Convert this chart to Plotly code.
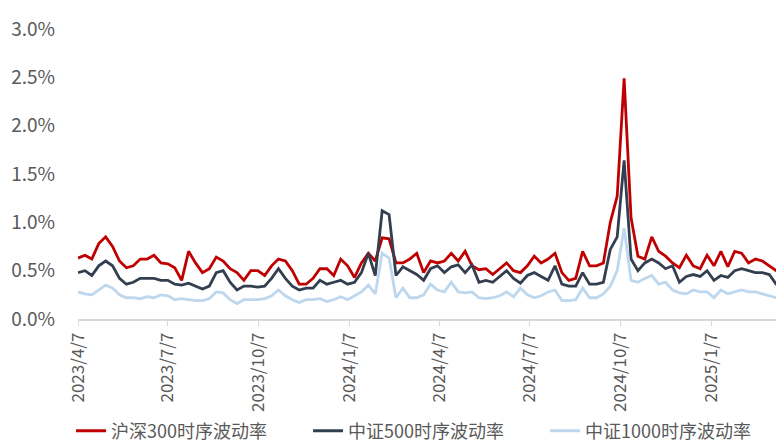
import pandas as pd
import plotly.graph_objects as go

# weekly observation dates (Fridays)
dates = pd.date_range("2023-04-07", periods=104, freq="7D")

hs300 = [0.63, 0.66, 0.62, 0.78, 0.85, 0.75, 0.60, 0.53, 0.55, 0.62,
         0.62, 0.66, 0.58, 0.57, 0.53, 0.40, 0.70, 0.58, 0.48, 0.52,
         0.64, 0.60, 0.52, 0.48, 0.40, 0.50, 0.50, 0.45, 0.55, 0.62,
         0.60, 0.50, 0.36, 0.36, 0.42, 0.52, 0.52, 0.45, 0.62, 0.55,
         0.43, 0.58, 0.68, 0.60, 0.84, 0.83, 0.58, 0.58, 0.62, 0.68,
         0.48, 0.60, 0.58, 0.60, 0.68, 0.60, 0.70, 0.55, 0.51, 0.52,
         0.46, 0.52, 0.58, 0.50, 0.48, 0.55, 0.65, 0.58, 0.62, 0.68,
         0.48, 0.40, 0.42, 0.70, 0.55, 0.55, 0.58, 1.00, 1.27, 2.49,
         1.05, 0.65, 0.62, 0.85, 0.70, 0.65, 0.58, 0.53, 0.66, 0.55,
         0.52, 0.66, 0.55, 0.70, 0.54, 0.70, 0.68, 0.58, 0.62, 0.60,
         0.55, 0.50, 0.45, 0.38]

zz500 = [0.48, 0.50, 0.45, 0.55, 0.60, 0.55, 0.42, 0.36, 0.38, 0.42,
         0.42, 0.42, 0.40, 0.40, 0.36, 0.35, 0.37, 0.34, 0.31, 0.34,
         0.48, 0.50, 0.38, 0.30, 0.34, 0.34, 0.33, 0.34, 0.42, 0.52,
         0.42, 0.34, 0.30, 0.32, 0.32, 0.40, 0.36, 0.38, 0.40, 0.36,
         0.38, 0.48, 0.68, 0.45, 1.12, 1.08, 0.45, 0.54, 0.50, 0.46,
         0.40, 0.52, 0.55, 0.48, 0.54, 0.56, 0.48, 0.56, 0.38, 0.40,
         0.38, 0.44, 0.50, 0.42, 0.37, 0.45, 0.48, 0.44, 0.40, 0.55,
         0.36, 0.34, 0.34, 0.48, 0.36, 0.36, 0.38, 0.72, 0.85, 1.64,
         0.62, 0.50, 0.58, 0.62, 0.58, 0.52, 0.55, 0.38, 0.44, 0.46,
         0.44, 0.50, 0.40, 0.45, 0.43, 0.50, 0.52, 0.50, 0.48, 0.48,
         0.46, 0.36, 0.34, 0.33]

zz1000 = [0.28, 0.26, 0.25, 0.30, 0.35, 0.32, 0.25, 0.22, 0.22, 0.21,
          0.23, 0.22, 0.25, 0.24, 0.20, 0.21, 0.20, 0.19, 0.19, 0.21,
          0.28, 0.27, 0.20, 0.16, 0.20, 0.20, 0.20, 0.21, 0.24, 0.30,
          0.24, 0.20, 0.17, 0.20, 0.20, 0.21, 0.18, 0.20, 0.23, 0.20,
          0.24, 0.28, 0.35, 0.26, 0.68, 0.63, 0.22, 0.32, 0.22, 0.22,
          0.25, 0.36, 0.30, 0.28, 0.38, 0.28, 0.27, 0.28, 0.22, 0.21,
          0.22, 0.24, 0.28, 0.23, 0.32, 0.25, 0.22, 0.24, 0.28, 0.30,
          0.19, 0.19, 0.20, 0.32, 0.22, 0.22, 0.26, 0.34, 0.50, 0.94,
          0.40, 0.38, 0.42, 0.45, 0.36, 0.38, 0.30, 0.27, 0.26, 0.30,
          0.28, 0.28, 0.22, 0.30, 0.26, 0.28, 0.30, 0.28, 0.28, 0.26,
          0.24, 0.22, 0.21, 0.21]

tick_dates = ["2023-04-07", "2023-07-07", "2023-10-07", "2024-01-07",
              "2024-04-07", "2024-07-07", "2024-10-07", "2025-01-07"]
tick_labels = ["2023/4/7", "2023/7/7", "2023/10/7", "2024/1/7",
               "2024/4/7", "2024/7/7", "2024/10/7", "2025/1/7"]
y_ticks = [0, 0.5, 1.0, 1.5, 2.0, 2.5, 3.0]
y_labels = ["0.0%", "0.5%", "1.0%", "1.5%", "2.0%", "2.5%", "3.0%"]

series = [("沪深300时序波动率", hs300, "#C00000"),
          ("中证500时序波动率", zz500, "#333F50"),
          ("中证1000时序波动率", zz1000, "#BDD7EE")]

FONT = "Noto Sans CJK SC"

fig = go.Figure()
for name, vals, color in series:
    fig.add_trace(go.Scatter(x=dates, y=vals, name=name, mode="lines",
                             line=dict(color=color, width=2.8)))

fig.update_layout(
    width=784, height=443,
    margin=dict(l=70, r=0, t=21, b=132),
    paper_bgcolor="white", plot_bgcolor="white",
    font=dict(family=FONT, color="#595959", size=17),
    showlegend=True,
    legend=dict(orientation="h", xref="container", yref="container",
                x=0.0804, xanchor="left", y=0.045, yanchor="middle",
                font=dict(size=18, color="#595959", family=FONT),
                entrywidth=192, tracegroupgap=0),
)
fig.update_xaxes(
    type="date", range=["2023-04-07", "2025-03-30"],
    tickvals=tick_dates, ticktext=tick_labels, tickangle=-90,
    showline=True, linecolor="#D9D9D9", linewidth=1.5,
    ticks="outside", ticklen=5, tickcolor="#D9D9D9",
    showgrid=False, zeroline=False, automargin=False,
    tickfont=dict(size=17, color="#595959", family=FONT),
)
fig.update_yaxes(
    range=[0, 3.0], tickvals=y_ticks, ticktext=y_labels,
    showgrid=False, zeroline=False, showline=False, automargin=False,
    tickfont=dict(size=19, color="#595959", family=FONT),
    ticks="", ticklabelstandoff=22,
)

fig.write_html("out.html")
